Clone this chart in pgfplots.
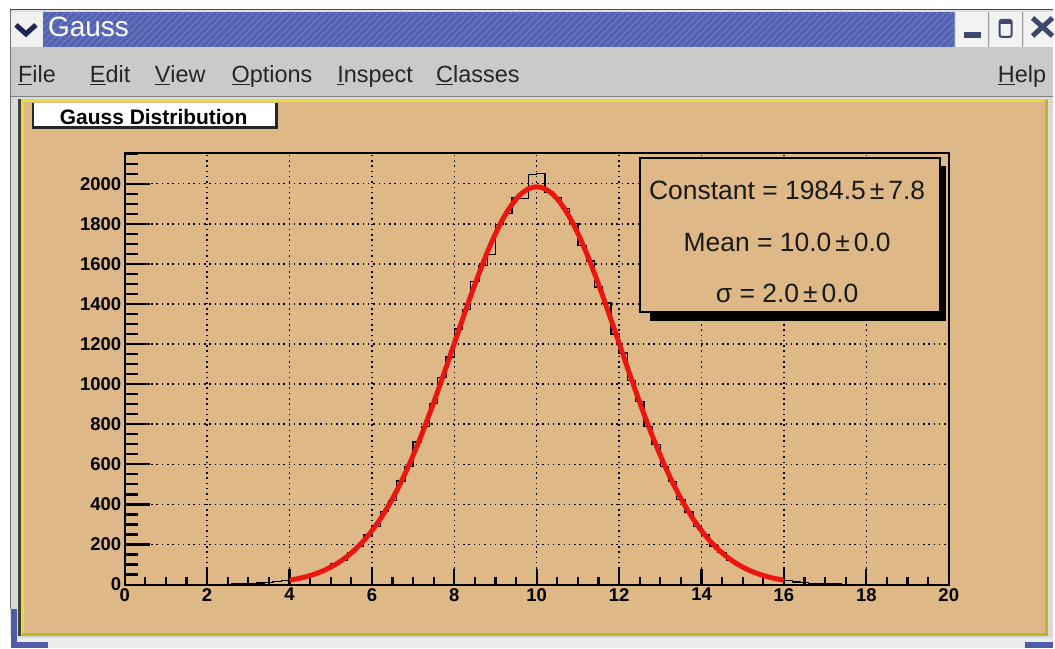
\documentclass[border=0pt]{standalone}
\usepackage{pgfplots}
\usepackage{pgfplotstable}
\pgfplotsset{compat=1.18}
\usepackage{fontspec}
\setmainfont{Liberation Sans}
\definecolor{titleblue}{RGB}{84,98,178}
\definecolor{hatch}{RGB}{108,122,194}
\definecolor{menugrey}{RGB}{202,202,202}
\definecolor{canvas}{RGB}{222,184,135}
\definecolor{ylw}{RGB}{230,220,52}
\definecolor{olive}{RGB}{190,180,44}
\definecolor{fitred}{RGB}{236,22,16}
\definecolor{navy}{RGB}{28,38,82}
\definecolor{winblue}{RGB}{78,92,170}

\pgfplotstableread{
x y
0.0 0
0.2 0
0.4 0
0.6 0
0.8 0
1.0 1
1.2 0
1.4 0
1.6 0
1.8 1
2.0 0
2.2 2
2.4 1
2.6 3
2.8 4
3.0 6
3.2 8
3.4 9
3.6 15
3.8 21
4.0 24
4.2 37
4.4 43
4.6 62
4.8 74
5.0 103
5.2 121
5.4 161
5.6 191
5.8 248
6.0 291
6.2 366
6.4 421
6.6 517
6.8 590
7.0 712
7.2 789
7.4 903
7.6 1032
7.8 1136
8.0 1275
8.2 1371
8.4 1512
8.6 1592
8.8 1648
9.0 1798
9.2 1852
9.4 1930
9.6 1925
9.8 2045
10.0 2052
10.2 1958
10.4 1931
10.6 1878
10.8 1801
11.0 1690
11.2 1615
11.4 1485
11.6 1405
11.8 1250
12.0 1155
12.2 1018
12.4 915
12.6 790
12.8 698
13.0 590
13.2 515
13.4 425
13.6 362
13.8 290
14.0 247
14.2 193
14.4 160
14.6 122
14.8 101
15.0 75
15.2 62
15.4 43
15.6 35
15.8 24
16.0 20
16.2 13
16.4 11
16.6 7
16.8 5
17.0 3
17.2 3
17.4 2
17.6 1
17.8 1
18.0 0
18.2 1
18.4 0
18.6 0
18.8 0
19.0 0
19.2 0
19.4 0
19.6 0
19.8 0
20.0 0
}\histdata

\pgfplotstableread{
x y
4.0 22.0
4.2 29.6
4.4 39.4
4.6 51.8
4.8 67.6
5.0 87.2
5.2 111.4
5.4 140.9
5.6 176.5
5.8 218.8
6.0 268.6
6.2 326.4
6.4 392.7
6.6 467.8
6.8 551.8
7.0 644.3
7.2 744.8
7.4 852.5
7.6 966.0
7.8 1083.7
8.0 1203.7
8.2 1323.6
8.4 1441.0
8.6 1553.3
8.8 1657.6
9.0 1751.3
9.2 1831.9
9.4 1897.2
9.6 1945.2
9.8 1974.6
10.0 1984.5
10.2 1974.6
10.4 1945.2
10.6 1897.2
10.8 1831.9
11.0 1751.3
11.2 1657.6
11.4 1553.3
11.6 1441.0
11.8 1323.6
12.0 1203.7
12.2 1083.7
12.4 966.0
12.6 852.5
12.8 744.8
13.0 644.3
13.2 551.8
13.4 467.8
13.6 392.7
13.8 326.4
14.0 268.6
14.2 218.8
14.4 176.5
14.6 140.9
14.8 111.4
15.0 87.2
15.2 67.6
15.4 51.8
15.6 39.4
15.8 29.6
16.0 22.0
}\fitdata

\begin{document}
\begin{tikzpicture}[x=1pt,y=1pt]
% window background
\fill[white] (0,0) rectangle (1055,650);
\fill[menugrey!60] (10,12) rectangle (1055,640);
\draw[black!70, line width=1pt] (10,640) -- (1055,640);
\draw[black!55, line width=1pt] (10.5,40) -- (10.5,640);
% title bar
\fill[white!94!black] (11,603) rectangle (43,638);
\draw[navy, line width=5pt, line join=miter] (16,625) -- (26,616) -- (36,625);
\begin{scope}
\clip (43,603) rectangle (957,638);
\fill[titleblue] (43,603) rectangle (957,638);
\foreach \i in {10,17,...,960} \draw[hatch, line width=1.2pt] (\i,603) -- (\i+35,638);
\end{scope}
\node[anchor=base west, text=white, inner sep=0pt, font=\fontsize{28}{28}\selectfont] at (48,613) {Gauss};
% buttons
\fill[white!95!black] (958,603) rectangle (990,638);
\fill[white!95!black] (992,603) rectangle (1024,638);
\fill[white!95!black] (1026,603) rectangle (1055,638);
\draw[black!40, line width=0.8pt] (991,603) -- (991,638) (1025,603) -- (1025,638);
\fill[navy!85] (966,612) rectangle (983,618);
\draw[navy!85, line width=2pt, rounded corners=2pt] (1002,613) rectangle (1014,630);
\draw[navy!85, line width=4pt] (1002,628) -- (1014,628);
\draw[navy!85, line width=5pt] (1035,614) -- (1055,632) (1035,632) -- (1055,614);
% menu bar
\fill[menugrey] (11,554) rectangle (1055,603);
\draw[black!50, line width=1.2pt] (11,553.5) -- (1055,553.5);
\begin{scope}[every node/.style={anchor=base west, inner sep=0pt, font=\fontsize{23.5}{23.5}\selectfont, text=black!85}]
\node at (18,567) {\underline{F}ile};
\node at (90,567) {\underline{E}dit};
\node at (155,567) {\underline{V}iew};
\node at (232,567) {\underline{O}ptions};
\node at (338,567) {\underline{I}nspect};
\node at (437,567) {\underline{C}lasses};
\node at (1000,567) {\underline{H}elp};
\end{scope}
% canvas
\fill[menugrey!70] (11,10) rectangle (1055,553);
\fill[black!75] (18,12) rectangle (21,551);
\fill[canvas] (21,12) rectangle (1050,551);
\draw[ylw, line width=3pt] (22.5,13.5) -- (22.5,549.5) -- (1048.5,549.5);
\draw[olive, line width=3pt] (22.5,13.5) -- (1048.5,13.5) -- (1048.5,549.5);
\fill[white!92!black] (11,0) rectangle (1055,10);
\fill[winblue] (11,0) rectangle (17,40);
\fill[winblue] (11,0) rectangle (48,6);
\fill[winblue] (1027,0) rectangle (1055,6);
% title box
\fill[white] (32,521) rectangle (278,547);
\draw[black!85, line width=2.5pt] (33,547) -- (33,522) -- (277,522) -- (277,547);
\node[anchor=base, inner sep=0pt, font=\fontsize{21}{21}\selectfont\bfseries] at (154,525) {Gauss Distribution};

% axes
\begin{axis}[
  at={(125pt,64pt)}, anchor=south west,
  scale only axis, width=826pt, height=433pt,
  xmin=0, xmax=20, ymin=0, ymax=2155,
  axis line style={line width=2pt, black},
  xtick={0,2,...,20}, minor xtick={0,0.5,...,20},
  ytick={0,200,...,2000},
  xtick pos=bottom, ytick pos=left, tick align=inside,
  major tick length=16pt, minor tick length=8pt,
  tick style={line width=2.2pt, black},
  xtick style={line width=2.2pt, black},
  ytick style={draw=none},
  grid=major,
  major grid style={black, line width=1.5pt, dash pattern=on 1.5pt off 3.8pt},
  tick label style={font=\fontsize{18.5}{18.5}\selectfont\bfseries, text=black},
  /pgf/number format/assume math mode=true,
  /pgf/number format/1000 sep={},
]
\addplot[const plot, black, line width=1.3pt] table[x=x, y=y] {\histdata};
\addplot[fitred, line width=5pt, smooth] table[x=x, y=y] {\fitdata};
\end{axis}
\begin{axis}[
  at={(125pt,64pt)}, anchor=south west,
  scale only axis, width=826pt, height=433pt,
  xmin=0, xmax=20, ymin=0, ymax=2155,
  axis line style={draw=none},
  xtick=\empty,
  ytick={0,200,...,2000}, minor ytick={0,50,...,2150},
  yticklabels={},
  ytick pos=left, tick align=inside,
  major tick length=25pt, minor tick length=13pt,
  ytick style={line width=2.2pt, black},
]
\addplot[draw=none] coordinates {(0,0)};
\end{axis}

% stats box
\fill[black] (652,328) rectangle (948,337);
\fill[black] (942,328) rectangle (948,484);
\filldraw[fill=canvas, draw=black, line width=2pt] (642,337) rectangle (942,492);
\begin{scope}[every node/.style={anchor=base, inner sep=0pt, font=\fontsize{26.5}{26.5}\selectfont, text=black!90}]
\node at (789,450) {Constant = 1984.5\hspace{0.15em}±\hspace{0.15em}7.8};
\node at (789,398) {Mean = 10.0\hspace{0.15em}±\hspace{0.15em}0.0};
\node at (789,347) {σ = 2.0\hspace{0.15em}±\hspace{0.15em}0.0};
\end{scope}
\end{tikzpicture}
\end{document}
